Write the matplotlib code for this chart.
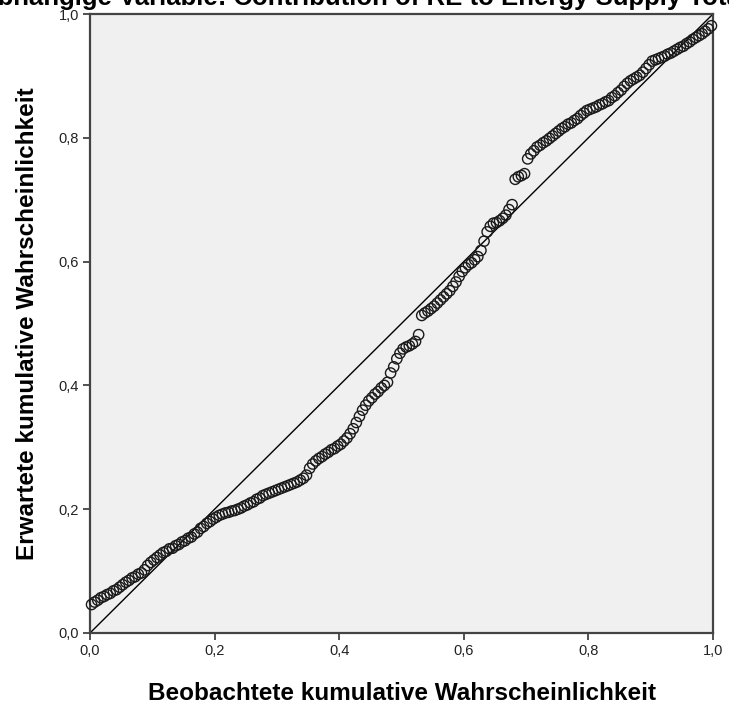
import matplotlib
matplotlib.use("Agg")
import matplotlib.pyplot as plt

# observed vs expected cumulative probability (P-P plot of residuals)
observed = [0.0025, 0.0075, 0.0125, 0.0175, 0.0225, 0.0275, 0.0325, 0.0375, 0.0425, 0.0475,
            0.0525, 0.0575, 0.0625, 0.0675, 0.0725, 0.0775, 0.0825, 0.0875, 0.0925, 0.0975,
            0.1025, 0.1075, 0.1125, 0.1175, 0.1225, 0.1275, 0.1325, 0.1375, 0.1425, 0.1475,
            0.1525, 0.1575, 0.1625, 0.1675, 0.1725, 0.1775, 0.1825, 0.1875, 0.1925, 0.1975,
            0.2025, 0.2075, 0.2125, 0.2175, 0.2225, 0.2275, 0.2325, 0.2375, 0.2425, 0.2475,
            0.2525, 0.2575, 0.2625, 0.2675, 0.2725, 0.2775, 0.2825, 0.2875, 0.2925, 0.2975,
            0.3025, 0.3075, 0.3125, 0.3175, 0.3225, 0.3275, 0.3325, 0.3375, 0.3425, 0.3475,
            0.3525, 0.3575, 0.3625, 0.3675, 0.3725, 0.3775, 0.3825, 0.3875, 0.3925, 0.3975,
            0.4025, 0.4075, 0.4125, 0.4175, 0.4225, 0.4275, 0.4325, 0.4375, 0.4425, 0.4475,
            0.4525, 0.4575, 0.4625, 0.4675, 0.4725, 0.4775, 0.4825, 0.4875, 0.4925, 0.4975,
            0.5025, 0.5075, 0.5125, 0.5175, 0.5225, 0.5275, 0.5325, 0.5375, 0.5425, 0.5475,
            0.5525, 0.5575, 0.5625, 0.5675, 0.5725, 0.5775, 0.5825, 0.5875, 0.5925, 0.5975,
            0.6025, 0.6075, 0.6125, 0.6175, 0.6225, 0.6275, 0.6325, 0.6375, 0.6425, 0.6475,
            0.6525, 0.6575, 0.6625, 0.6675, 0.6725, 0.6775, 0.6825, 0.6875, 0.6925, 0.6975,
            0.7025, 0.7075, 0.7125, 0.7175, 0.7225, 0.7275, 0.7325, 0.7375, 0.7425, 0.7475,
            0.7525, 0.7575, 0.7625, 0.7675, 0.7725, 0.7775, 0.7825, 0.7875, 0.7925, 0.7975,
            0.8025, 0.8075, 0.8125, 0.8175, 0.8225, 0.8275, 0.8325, 0.8375, 0.8425, 0.8475,
            0.8525, 0.8575, 0.8625, 0.8675, 0.8725, 0.8775, 0.8825, 0.8875, 0.8925, 0.8975,
            0.9025, 0.9075, 0.9125, 0.9175, 0.9225, 0.9275, 0.9325, 0.9375, 0.9425, 0.9475,
            0.9525, 0.9575, 0.9625, 0.9675, 0.9725, 0.9775, 0.9825, 0.9875, 0.9925, 0.9975]
expected = [0.046, 0.050, 0.053, 0.057, 0.059, 0.062, 0.064, 0.068, 0.070, 0.074,
            0.078, 0.082, 0.085, 0.089, 0.091, 0.095, 0.097, 0.102, 0.109, 0.114,
            0.118, 0.122, 0.126, 0.130, 0.132, 0.136, 0.137, 0.141, 0.143, 0.147,
            0.149, 0.153, 0.155, 0.160, 0.163, 0.169, 0.172, 0.177, 0.180, 0.184,
            0.187, 0.190, 0.192, 0.194, 0.195, 0.197, 0.198, 0.200, 0.202, 0.205,
            0.207, 0.210, 0.212, 0.216, 0.218, 0.222, 0.224, 0.226, 0.228, 0.230,
            0.232, 0.234, 0.236, 0.238, 0.240, 0.242, 0.244, 0.247, 0.250, 0.255,
            0.266, 0.273, 0.278, 0.282, 0.285, 0.289, 0.292, 0.296, 0.298, 0.302,
            0.305, 0.310, 0.315, 0.322, 0.330, 0.340, 0.350, 0.360, 0.368, 0.375,
            0.380, 0.386, 0.390, 0.396, 0.400, 0.405, 0.420, 0.430, 0.443, 0.452,
            0.459, 0.462, 0.464, 0.467, 0.471, 0.482, 0.513, 0.517, 0.520, 0.524,
            0.528, 0.533, 0.538, 0.543, 0.548, 0.553, 0.560, 0.567, 0.576, 0.584,
            0.590, 0.595, 0.598, 0.603, 0.608, 0.618, 0.633, 0.648, 0.657, 0.662,
            0.663, 0.666, 0.670, 0.675, 0.684, 0.692, 0.733, 0.737, 0.739, 0.742,
            0.766, 0.774, 0.779, 0.785, 0.788, 0.792, 0.795, 0.799, 0.803, 0.807,
            0.811, 0.815, 0.818, 0.822, 0.824, 0.828, 0.831, 0.836, 0.840, 0.844,
            0.846, 0.848, 0.850, 0.853, 0.855, 0.858, 0.860, 0.865, 0.868, 0.873,
            0.877, 0.883, 0.888, 0.892, 0.895, 0.898, 0.901, 0.906, 0.912, 0.918,
            0.924, 0.926, 0.928, 0.930, 0.932, 0.935, 0.937, 0.940, 0.943, 0.946,
            0.948, 0.952, 0.955, 0.959, 0.962, 0.965, 0.968, 0.972, 0.976, 0.981]

ticks = [0.0, 0.2, 0.4, 0.6, 0.8, 1.0]
tick_labels = ["0,0", "0,2", "0,4", "0,6", "0,8", "1,0"]

plt.rcParams['font.family'] = ['Liberation Sans', 'DejaVu Sans']

fig = plt.figure(figsize=(7.29, 7.11), dpi=100)
ax = fig.add_axes([90 / 729, 1 - 633 / 711, 623 / 729, 619 / 711])
ax.set_facecolor("#f0f0f0")

ax.plot([0, 1], [0, 1], color="black", linewidth=1.0, zorder=2)
ax.scatter(observed, expected, s=55, facecolors="none", edgecolors="#1a1a1a",
           linewidths=1.0, zorder=3, clip_on=False)

ax.set_xlim(0, 1)
ax.set_ylim(0, 1)
ax.set_xticks(ticks)
ax.set_xticklabels(tick_labels)
ax.set_yticks(ticks)
ax.set_yticklabels(tick_labels)
ax.tick_params(direction="out", length=5, width=1.2, color="#333333",
               labelsize=10.5, labelcolor="#222222", pad=3)
for side in ax.spines.values():
    side.set_color("#444444")
    side.set_linewidth(1.6)

ax.set_xlabel("Beobachtete kumulative Wahrscheinlichkeit", fontsize=17.5,
              fontweight="bold", labelpad=17)
ax.set_ylabel("Erwartete kumulative Wahrscheinlichkeit", fontsize=17.5,
              fontweight="bold", labelpad=14)

# title is partly cut off at the top of the picture
fig.text(-21 / 729, 1 - 5 / 711, "Abhängige Variable: Contribution of RE to Energy Supply Total",
         fontsize=18.5, fontweight="bold", ha="left", va="baseline")

fig.savefig("out.png", dpi=100)
